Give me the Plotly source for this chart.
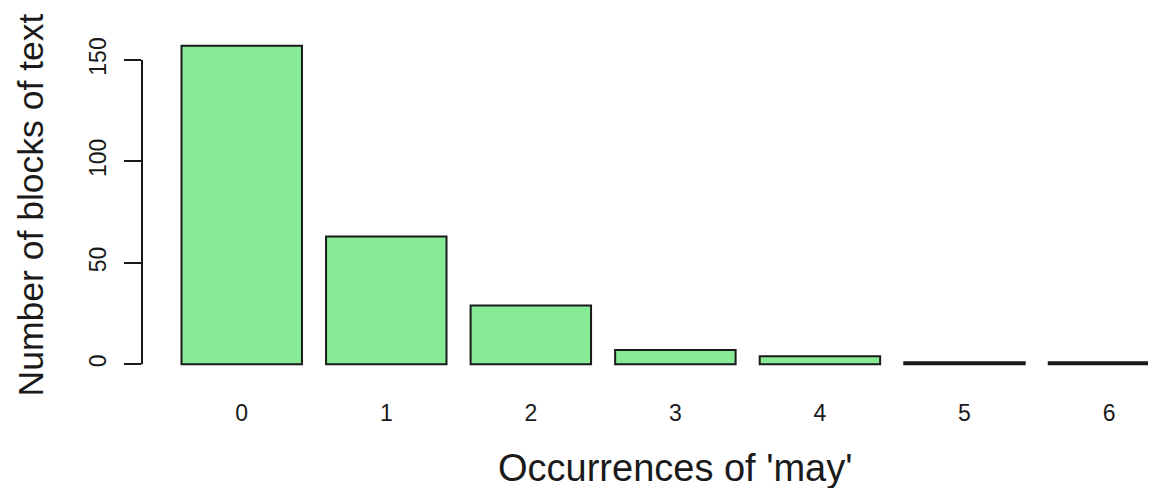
import plotly.graph_objects as go

categories = ["0", "1", "2", "3", "4", "5", "6"]
counts = [157, 63, 29, 7, 4, 1, 1]
y_ticks = [0, 50, 100, 150]
x_title = "Occurrences of 'may'"
y_title = "Number of blocks of text"

FONT = "Liberation Sans, Arial, sans-serif"
# page body has an 8px default margin, so the figure is 8px smaller each way
W, H = 1148, 480
L, R, T, B = 134, 0, 25, 111

fig = go.Figure()
fig.add_trace(go.Bar(
    x=categories, y=counts,
    marker=dict(color="#87EB95", line=dict(color="#1a1a1a", width=2)),
    hoverinfo="skip",
))

fig.update_layout(
    width=W, height=H,
    margin=dict(l=L, r=R, t=T, b=B, pad=0, autoexpand=False),
    plot_bgcolor="white", paper_bgcolor="white",
    bargap=0.2 / 1.2,
    showlegend=False,
    font=dict(family=FONT, color="#1a1a1a"),
    xaxis=dict(
        type="category",
        range=[-0.69, 6.325],
        automargin=False,
        showgrid=False, zeroline=False, showline=False,
        ticks="outside", ticklen=15, tickcolor="rgba(0,0,0,0)",
        tickfont=dict(size=23, family=FONT, color="#1a1a1a"),
    ),
    yaxis=dict(
        range=[-6.28, 163.28],
        automargin=False,
        tickvals=y_ticks,
        ticktext=[str(v) for v in y_ticks],
        showgrid=False, zeroline=False, showline=False,
        ticks="outside", ticklen=17, tickwidth=2, tickcolor="#1a1a1a",
        tickangle=-90,
        tickfont=dict(size=23, family=FONT, color="#1a1a1a"),
        ticklabelstandoff=9,
        title=dict(text=y_title, font=dict(size=35.5, family=FONT, color="#1a1a1a"), standoff=30),
    ),
)

# y axis line spanning only the tick range, as in the original
fig.add_shape(type="line", xref="paper", yref="y",
              x0=0, x1=0, y0=y_ticks[0], y1=y_ticks[-1],
              line=dict(color="#1a1a1a", width=2))

fig.add_annotation(text=x_title, xref="paper", yref="paper",
                   x=0.526, y=-0.265, xanchor="center", yanchor="middle",
                   showarrow=False,
                   font=dict(size=38, family=FONT, color="#1a1a1a"))

fig.write_html("out.html")
